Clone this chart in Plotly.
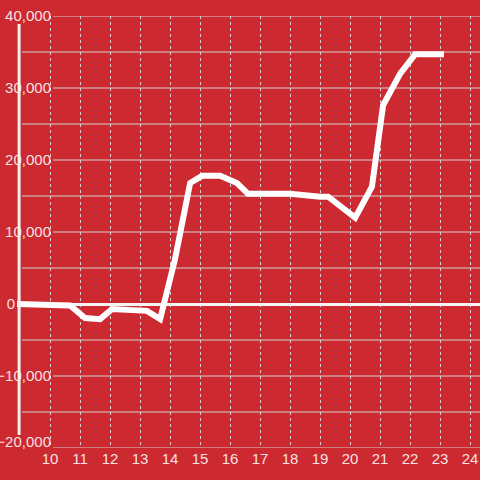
import plotly.graph_objects as go

# data
x_vals = [8.9, 10.67, 11.17, 11.67, 12.07, 13.23, 13.67, 14.17, 14.67, 15.07, 15.67,
          16.23, 16.6, 18.0, 19.0, 19.27, 20.17, 20.73, 21.1, 21.67, 22.17, 23.13]
y_vals = [0, -200, -1950, -2100, -700, -950, -2100, 6300, 16800, 17800, 17800,
          16800, 15300, 15300, 14900, 14900, 12000, 16300, 27600, 32000, 34700, 34700]
x_ticks = list(range(10, 25))
y_major = [-20000, -10000, 0, 10000, 20000, 30000, 40000]
y_minor = [-15000, -5000, 5000, 15000, 25000, 35000]

BG = "#cc2a30"
GRID = "#d2d2d2"
TXT = "rgba(255,255,255,0.88)"
X0, X1 = 8.9, 24.33
YR = [-20000, 40000]

fig = go.Figure()
# helper (empty) traces so overlay axes carrying individual labels get drawn
fig.add_trace(go.Scatter(x=[None], y=[None], yaxis="y2", mode="lines",
                         hoverinfo="skip", showlegend=False))
fig.add_trace(go.Scatter(x=[None], y=[None], yaxis="y3", mode="lines",
                         hoverinfo="skip", showlegend=False))
fig.add_trace(go.Scatter(x=x_vals, y=y_vals, mode="lines",
                         line=dict(color="white", width=6), hoverinfo="skip"))

shapes = []
for v in y_minor:
    shapes.append(dict(type="line", xref="x", yref="y", x0=9.07, x1=X1, y0=v, y1=v,
                       line=dict(color=GRID, width=1), layer="below"))
for v in y_major:
    if v == 0:
        continue
    shapes.append(dict(type="line", xref="x", yref="y", x0=10.1, x1=X1, y0=v, y1=v,
                       line=dict(color=GRID, width=1), layer="below"))
# vertical axis bar
shapes.append(dict(type="line", xref="x", yref="y", x0=8.97, x1=8.97, y0=-18200, y1=38900,
                   line=dict(color="#f0f0f0", width=3), layer="above"))

main_ticks = [v for v in y_major if v not in (0, YR[0])]
common = dict(range=YR, tickformat=",", showgrid=False, showline=False, ticks="",
              automargin=False, fixedrange=True)

fig.update_layout(
    width=480, height=480,
    margin=dict(l=17, r=0, t=16, b=32),
    paper_bgcolor=BG, plot_bgcolor=BG,
    showlegend=False,
    shapes=shapes,
    font=dict(family="Liberation Sans, Arial, sans-serif", size=15, color=TXT),
    xaxis=dict(range=[X0, X1], tickvals=x_ticks, showgrid=True, griddash="dot",
               gridcolor=GRID, gridwidth=1, zeroline=False, showline=False,
               ticks="", automargin=False, fixedrange=True),
    yaxis=dict(tickvals=main_ticks, zeroline=True, zerolinecolor="#f4f4f4",
               zerolinewidth=3, ticklabelstandoff=-35, **common),
    yaxis2=dict(overlaying="y", side="left", tickvals=[YR[0]], zeroline=False,
                ticklabelstandoff=-35, ticklabelshift=-6, **common),
    yaxis3=dict(overlaying="y", side="left", tickvals=[0], zeroline=False,
                ticklabelstandoff=1, **common),
)
fig.write_html("out.html", config={"displayModeBar": False},
               post_script="document.body.style.margin='0';document.body.style.overflow='hidden';")
